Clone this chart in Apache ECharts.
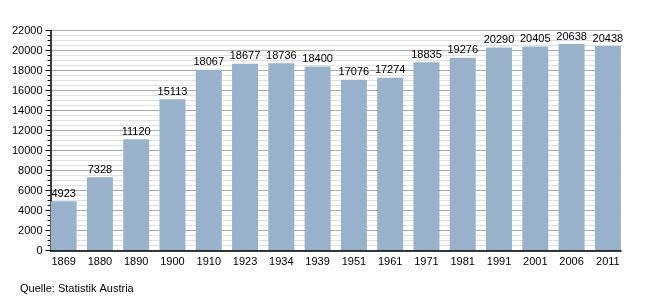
<!DOCTYPE html>
<html>
<head>
<meta charset="utf-8">
<script src="https://cdn.jsdelivr.net/npm/echarts@6/dist/echarts.min.js"></script>
<style>html,body{margin:0;padding:0;background:#fff}#c{width:650px;height:300px}</style>
</head>
<body>
<div id="c"></div>
<script>
var years = ['1869','1880','1890','1900','1910','1923','1934','1939','1951','1961','1971','1981','1991','2001','2006','2011'];
var population = [4923,7328,11120,15113,18067,18677,18736,18400,17076,17274,18835,19276,20290,20405,20638,20438];
var yMin = 0, yMax = 22000, yStep = 2000;
var sourceText = 'Quelle: Statistik Austria';

var font = 'Liberation Sans, Arial, Helvetica, sans-serif';
var chart = echarts.init(document.getElementById('c'), null, {renderer:'canvas'});
chart.setOption({
  animation:false,
  grid:[
    {left:50.5, right:29, top:30.5, bottom:49.5},
    {left:45.5, right:24, top:30.5, bottom:49.5}
  ],
  graphic:[{type:'text', left:20, top:283, style:{text:sourceText, font:'11px '+font, fill:'#000'}}],
  xAxis:[
    {type:'category', gridIndex:0, data:years, boundaryGap:true,
     axisLine:{lineStyle:{color:'#000', width:1.5}}, axisTick:{show:false}, axisLabel:{show:false}, splitLine:{show:false}, z:20},
    {type:'category', gridIndex:1, data:years, boundaryGap:true,
     axisLine:{show:false}, axisTick:{show:false},
     axisLabel:{color:'#000', fontSize:11, fontFamily:font, margin:6}}
  ],
  yAxis:[
    {type:'value', gridIndex:0, min:yMin, max:yMax, interval:yStep,
     axisLine:{show:true, lineStyle:{color:'#000', width:1.5}},
     axisTick:{show:true, length:5, lineStyle:{color:'#000'}},
     minorTick:{show:true, splitNumber:4, length:3, lineStyle:{color:'#000'}},
     splitLine:{show:true, lineStyle:{color:'#aaaaaa', width:1}},
     minorSplitLine:{show:true, lineStyle:{color:'#e0e0e0', width:1}},
     axisLabel:{color:'#000', fontSize:11, fontFamily:font, margin:8, formatter:function(v){return String(v);}}, z:0},
    {type:'value', gridIndex:1, min:yMin, max:yMax, interval:yStep, show:false}
  ],
  series:[{
    type:'bar', xAxisIndex:1, yAxisIndex:1, data:population, barWidth:26, z:10,
    itemStyle:{color:'#98b2cb'},
    label:{show:true, position:'top', distance:2, color:'#000', fontSize:11, fontFamily:font}
  }]
});
</script>
</body>
</html>
